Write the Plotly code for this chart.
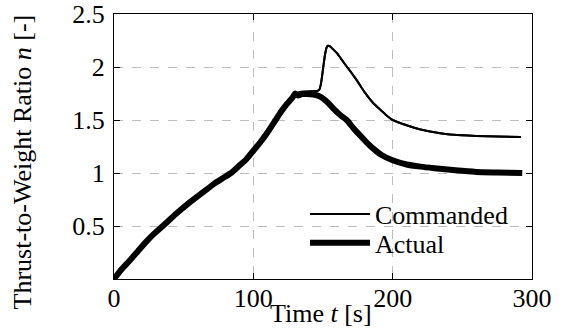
import plotly.graph_objects as go

# Actual thrust-to-weight ratio
t_act = [0, 5, 11, 17, 23, 29, 35, 45, 55, 65, 72, 78, 84, 90, 95, 100, 105, 110, 116,
         120, 124, 128, 130, 132, 135, 138, 143, 148, 153, 158, 163, 167, 172, 177, 182,
         187, 192, 200, 210, 220, 230, 245, 260, 275, 293]
n_act = [0, 0.085, 0.17, 0.26, 0.35, 0.43, 0.5, 0.62, 0.73, 0.83, 0.9, 0.95, 1.0, 1.07,
         1.13, 1.21, 1.29, 1.38, 1.5, 1.58, 1.65, 1.71, 1.75, 1.73, 1.745, 1.745, 1.74,
         1.72, 1.67, 1.6, 1.54, 1.5, 1.42, 1.35, 1.28, 1.22, 1.17, 1.12, 1.08, 1.06,
         1.045, 1.025, 1.01, 1.005, 1.0]

# Commanded thrust-to-weight ratio
t_cmd = [0, 5, 11, 17, 23, 29, 35, 45, 55, 65, 72, 78, 84, 90, 95, 100, 105, 110, 116,
         120, 124, 128, 133, 140, 146, 147.5, 148.5, 149.5, 150.5, 151.5, 152.5, 153.5,
         155, 157, 160, 165, 169, 175, 180, 186, 190, 195, 200, 210, 220, 230, 244, 260,
         275, 292]
n_cmd = [0, 0.085, 0.17, 0.26, 0.35, 0.43, 0.5, 0.62, 0.73, 0.83, 0.9, 0.95, 1.0, 1.07,
         1.13, 1.21, 1.29, 1.38, 1.5, 1.58, 1.65, 1.72, 1.765, 1.77, 1.775, 1.79, 1.84,
         1.93, 2.03, 2.12, 2.18, 2.2, 2.195, 2.17, 2.13, 2.04, 1.97, 1.86, 1.76, 1.66,
         1.61, 1.55, 1.5, 1.45, 1.41, 1.385, 1.36, 1.35, 1.345, 1.34]

x_ticks = [0, 100, 200, 300]
y_ticks = [0.5, 1, 1.5, 2, 2.5]
y_tick_text = ["0.5", "1", "1.5", "2", "2.5"]

FONT = "Liberation Serif"
FS = 26

fig = go.Figure()
fig.add_trace(go.Scatter(x=t_cmd, y=n_cmd, mode="lines", name="Commanded", legend="legend",
                         line=dict(color="black", width=2, shape="spline", smoothing=0.6)))
fig.add_trace(go.Scatter(x=t_act, y=n_act, mode="lines", name="Actual", legend="legend2",
                         line=dict(color="black", width=6, shape="spline", smoothing=0.6)))
# thin commanded branch redrawn above the thick line where the two separate
fig.add_trace(go.Scatter(x=t_cmd[22:], y=n_cmd[22:], mode="lines", showlegend=False,
                         line=dict(color="black", width=2, shape="spline", smoothing=0.6),
                         hoverinfo="skip"))

axis_common = dict(
    showline=True, linecolor="black", linewidth=1, mirror="allticks",
    ticks="inside", ticklen=6, tickcolor="black", tickwidth=1,
    showgrid=True, gridcolor="#bdbdbd", griddash="dash", gridwidth=1,
    zeroline=False, automargin=False,
    tickfont=dict(family=FONT, size=FS, color="black"),
)

legend_common = dict(xanchor="left", yanchor="middle", bgcolor="rgba(0,0,0,0)",
                     borderwidth=0, font=dict(family=FONT, size=FS, color="black"),
                     itemwidth=60)

fig.update_layout(
    width=561, height=334,
    margin=dict(l=114, r=29, t=14, b=55),
    paper_bgcolor="white", plot_bgcolor="white",
    font=dict(family=FONT, size=FS, color="black"),
    showlegend=True,
    legend=dict(x=0.457, y=0.245, **legend_common),
    legend2=dict(x=0.457, y=0.136, **legend_common),
    xaxis=dict(range=[0, 300], tickvals=x_ticks, ticktext=[str(v) for v in x_ticks],
               ticklabelstandoff=-4, **axis_common),
    yaxis=dict(range=[0, 2.5], tickvals=y_ticks, ticktext=y_tick_text,
               ticklabelstandoff=3, **axis_common),
    annotations=[
        dict(text="Thrust-to-Weight Ratio <i>n</i> [-]", xref="paper", yref="paper",
             x=-0.22, y=0.44, xanchor="center", yanchor="middle",
             textangle=-90, showarrow=False,
             font=dict(family=FONT, size=FS, color="black")),
        dict(text="Time <i>t</i> [s]", xref="paper", yref="paper",
             x=0.495, y=-0.13, xanchor="center", yanchor="middle",
             showarrow=False, font=dict(family=FONT, size=FS, color="black")),
    ],
)

fig.write_html("out.html")
